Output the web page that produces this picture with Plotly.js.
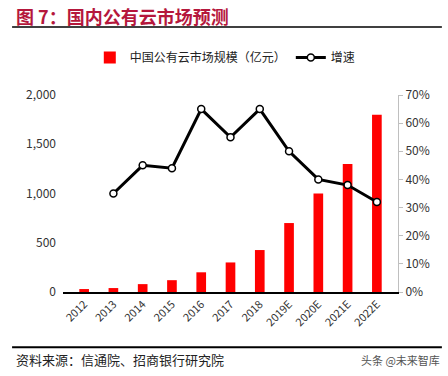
<!DOCTYPE html>
<html><head><meta charset="utf-8">
<script src="https://cdn.plot.ly/plotly-3.0.1.min.js"></script>
<style>html,body{margin:0;padding:0;background:#fff}#c{width:448px;height:376px}</style>
</head><body><div id="c"></div>
<script>
const years = ['2012','2013','2014','2015','2016','2017','2018','2019E','2020E','2021E','2022E'];
const marketSize = [30,40,80,120,200,300,426,700,1000,1300,1800];
const growth = [null,35,45,44,65,55,65,50,40,38,32];
const barName = '中国公有云市场规模（亿元）';
const lineName = '增速';
const font = 'Noto Sans CJK SC, Open Sans, sans-serif';

const traces = [
  {type:'bar', x:years, y:marketSize, name:barName, marker:{color:'#ff0000'}, width:0.33, yaxis:'y'},
  {type:'scatter', mode:'lines+markers', x:years, y:growth.map(v=>v==null?null:v/100), name:lineName, yaxis:'y2',
   line:{color:'#000', width:3}, marker:{symbol:'circle', size:7, color:'#fff', line:{color:'#000', width:1.5}}, connectgaps:false}
];
const layout = {
  width:448, height:376,
  margin:{l:63, r:50, t:95, b:84},
  paper_bgcolor:'#fff', plot_bgcolor:'#fff',
  font:{family:font, size:12, color:'#333'},
  showlegend:true,
  legend:{orientation:'h', x:0.08, y:1.19, xanchor:'left', yanchor:'middle', font:{size:12, color:'#222'}, itemwidth:30, tracegroupgap:0},
  bargap:0.67,
  xaxis:{type:'category', tickangle:-45, showline:true, linecolor:'#000', linewidth:1.5, ticks:'', tickfont:{size:11, color:'#333'}, showgrid:false, zeroline:false},
  yaxis:{range:[0,2000], tickvals:[0,500,1000,1500,2000], ticktext:['0','500','1,000','1,500','2,000'], showgrid:false, zeroline:false, showline:false, ticks:'', tickfont:{size:12, color:'#333'}, ticklabelstandoff:6},
  yaxis2:{overlaying:'y', side:'right', range:[0,0.7], tickvals:[0,0.1,0.2,0.3,0.4,0.5,0.6,0.7], ticktext:['0%','10%','20%','30%','40%','50%','60%','70%'], showgrid:false, zeroline:false, showline:true, linecolor:'#bfbfbf', linewidth:1, ticks:'outside', ticklen:4, tickcolor:'#bfbfbf', tickfont:{size:12, color:'#333'}},
  shapes:[
    {type:'line', xref:'paper', yref:'paper', x0:-0.152, x1:1.131, y0:1.345, y1:1.345, line:{color:'#000', width:1.5}},
    {type:'line', xref:'paper', yref:'paper', x0:-0.152, x1:1.131, y0:-0.28, y1:-0.28, line:{color:'#000', width:2}}
  ],
  annotations:[
    {text:'<b>图 7：国内公有云市场预测</b>', xref:'paper', yref:'paper', x:-0.145, y:1.40, xanchor:'left', yanchor:'middle', showarrow:false, font:{family:font, size:18, color:'#b5173c'}},
    {text:'资料来源：信通院、招商银行研究院', xref:'paper', yref:'paper', x:-0.145, y:-0.345, xanchor:'left', yanchor:'middle', showarrow:false, font:{family:font, size:13, color:'#222'}},
    {text:'头条 @未来智库', xref:'paper', yref:'paper', x:1.13, y:-0.345, xanchor:'right', yanchor:'middle', showarrow:false, font:{family:font, size:11, color:'#555'}}
  ]
};
Plotly.newPlot('c', traces, layout, {displayModeBar:false, staticPlot:true});
</script></body></html>
